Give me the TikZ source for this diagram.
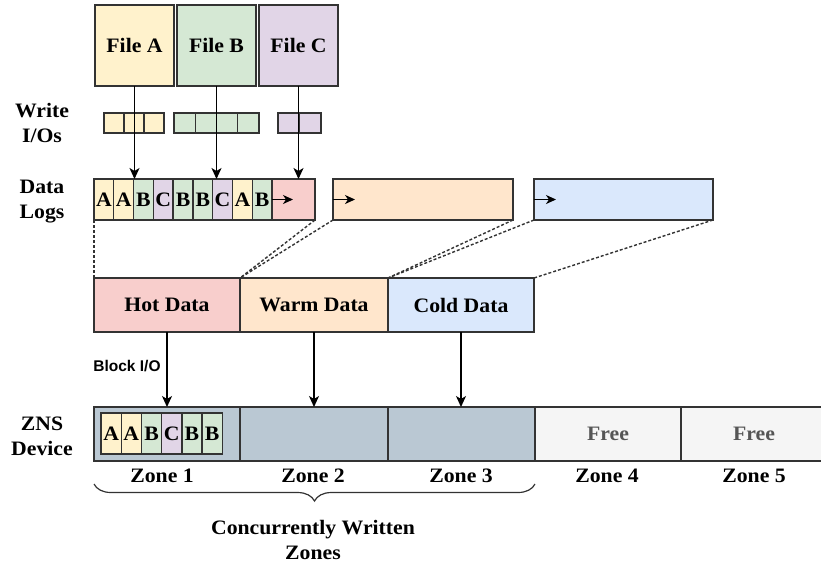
\documentclass[tikz,border=0pt]{standalone}
\usepackage{fontspec}
\setmainfont{Liberation Serif}[FakeStretch=1.06]
\setsansfont{Liberation Sans}
\usetikzlibrary{arrows.meta,decorations.pathreplacing}
\definecolor{cyel}{HTML}{FFF2CC}
\definecolor{cgrn}{HTML}{D5E8D4}
\definecolor{cpur}{HTML}{E1D5E7}
\definecolor{cpink}{HTML}{F8CECC}
\definecolor{corg}{HTML}{FFE6CC}
\definecolor{cblu}{HTML}{DAE8FC}
\definecolor{czone}{HTML}{BAC8D3}
\definecolor{cfree}{HTML}{F5F5F5}
\definecolor{cline}{HTML}{333333}
\definecolor{cgraytxt}{HTML}{555555}
\tikzset{
  bx/.style={draw=cline, line width=1.4pt, inner sep=0pt, outer sep=0pt, anchor=north west},
  big/.style={font=\bfseries\fontsize{20.5}{24}\selectfont},
  side/.style={font=\bfseries\fontsize{20.5}{25}\selectfont, align=center, inner sep=0pt},
  arr/.style={draw=black, line width=1.5pt, -{Stealth[length=11pt,width=10pt,inset=3pt]}},
  sarr/.style={draw=black, line width=1.5pt, -{Stealth[length=10pt,width=9pt,inset=3pt]}},
  dsh/.style={draw=cline, line width=1.4pt, dash pattern=on 3pt off 2pt},
}
\begin{document}
\begin{tikzpicture}[x=1pt,y=-1pt]
\useasboundingbox (0,0) rectangle (821,566);
% files
\node[bx,big,fill=cyel,minimum width=79,minimum height=81] (fa) at (95,5) {File A};
\node[bx,big,fill=cgrn,minimum width=79,minimum height=81] (fb) at (177,5) {File B};
\node[bx,big,fill=cpur,minimum width=79,minimum height=81] (fc) at (259,5) {File C};
% side labels
\node[side] (lwrite) at (42,123) {Write\\I/Os};
\node[side] (ldata) at (42,202) {Data\\Logs};
\node[side] (lzns) at (42,436) {ZNS\\Device};
% write I/Os
\foreach \i in {0,1,2}{
  \node[bx,fill=cyel,minimum width=20,minimum height=20] (wa\i) at (104+20*\i,113) {};}
\foreach \i in {0,1,2,3}{
  \node[bx,fill=cgrn,minimum width=21.25,minimum height=20] (wb\i) at (174+21.25*\i,113) {};}
\foreach \i in {0,1}{
  \node[bx,fill=cpur,minimum width=21.5,minimum height=20] (wc\i) at (278+21.5*\i,113) {};}
% data logs
\foreach \l/\c [count=\i from 0] in {A/cyel,A/cyel,B/cgrn,C/cpur,B/cgrn,B/cgrn,C/cpur,A/cyel,B/cgrn}{
  \node[bx,big,fill=\c,minimum width=19.78,minimum height=41] (d\i) at (94+19.78*\i,179) {\l};}
\node[bx,fill=cpink,minimum width=43,minimum height=41] (pink) at (272,179) {};
\node[bx,fill=corg,minimum width=180,minimum height=41] (orgl) at (333,179) {};
\node[bx,fill=cblu,minimum width=179,minimum height=41] (blul) at (534,179) {};
\draw[sarr] (pink.west) -- ++(21,0);
\draw[sarr] (orgl.west) -- ++(22,0);
\draw[sarr] (blul.west) -- ++(22,0);
% file arrows
\draw[arr] (fa.south) -- (fa.south |- pink.north);
\draw[arr] (fb.south) -- (fb.south |- pink.north);
\draw[arr] (fc.south) -- (fc.south |- pink.north);
% tiers
\node[bx,big,fill=cpink,minimum width=146,minimum height=54] (hot) at (94,278) {Hot Data};
\node[bx,big,fill=corg,minimum width=148,minimum height=54] (warm) at (240,278) {Warm Data};
\node[bx,big,fill=cblu,minimum width=146,minimum height=54] (cold) at (388,278) {Cold Data};
% dashed
\draw[dsh] (d0.south west) -- (hot.north west);
\draw[dsh] (pink.south east) -- (hot.north east);
\draw[dsh] (orgl.south west) -- (hot.north east);
\draw[dsh] (orgl.south east) -- (warm.north east);
\draw[dsh] (blul.south west) -- (warm.north east);
\draw[dsh] (blul.south east) -- (cold.north east);
% zones
\node[bx,fill=czone,minimum width=146,minimum height=54] (z1) at (94,407) {};
\node[bx,fill=czone,minimum width=148,minimum height=54] (z2) at (240,407) {};
\node[bx,fill=czone,minimum width=147,minimum height=54] (z3) at (388,407) {};
\node[bx,big,fill=cfree,text=cgraytxt,minimum width=146,minimum height=54] (z4) at (535,407) {Free};
\node[bx,fill=cfree,minimum width=150,minimum height=54] (z5) at (681,407) {};
\node[big,text=cgraytxt] (free5) at (754,434) {Free};
\foreach \l/\c [count=\i from 0] in {A/cyel,A/cyel,B/cgrn,C/cpur,B/cgrn,B/cgrn}{
  \node[bx,big,fill=\c,minimum width=20.2,minimum height=41] (e\i) at (101+20.2*\i,413) {\l};}
% zone labels
\node[big] (zl1) at (162,476) {Zone 1};
\node[big] (zl2) at (313,476) {Zone 2};
\node[big] (zl3) at (461,476) {Zone 3};
\node[big] (zl4) at (607,476) {Zone 4};
\node[big] (zl5) at (754,476) {Zone 5};
% block io arrows
\node[font=\sffamily\bfseries\fontsize{15.5}{17}\selectfont] (bio) at (127,366) {Block I/O};
\draw[arr] (hot.south) -- (hot.south |- z1.north);
\draw[arr] (warm.south) -- (warm.south |- z2.north);
\draw[arr] (cold.south) -- (cold.south |- z3.north);
% brace
\coordinate (bl) at (94,484);
\coordinate (br) at (535,484);
\draw[line width=1.2pt,draw=cline,decorate,decoration={brace,mirror,amplitude=17pt,raise=0pt}] (bl) -- (br);
\node[side] (cwz) at (313,540) {Concurrently Written\\Zones};
\end{tikzpicture}
\end{document}
